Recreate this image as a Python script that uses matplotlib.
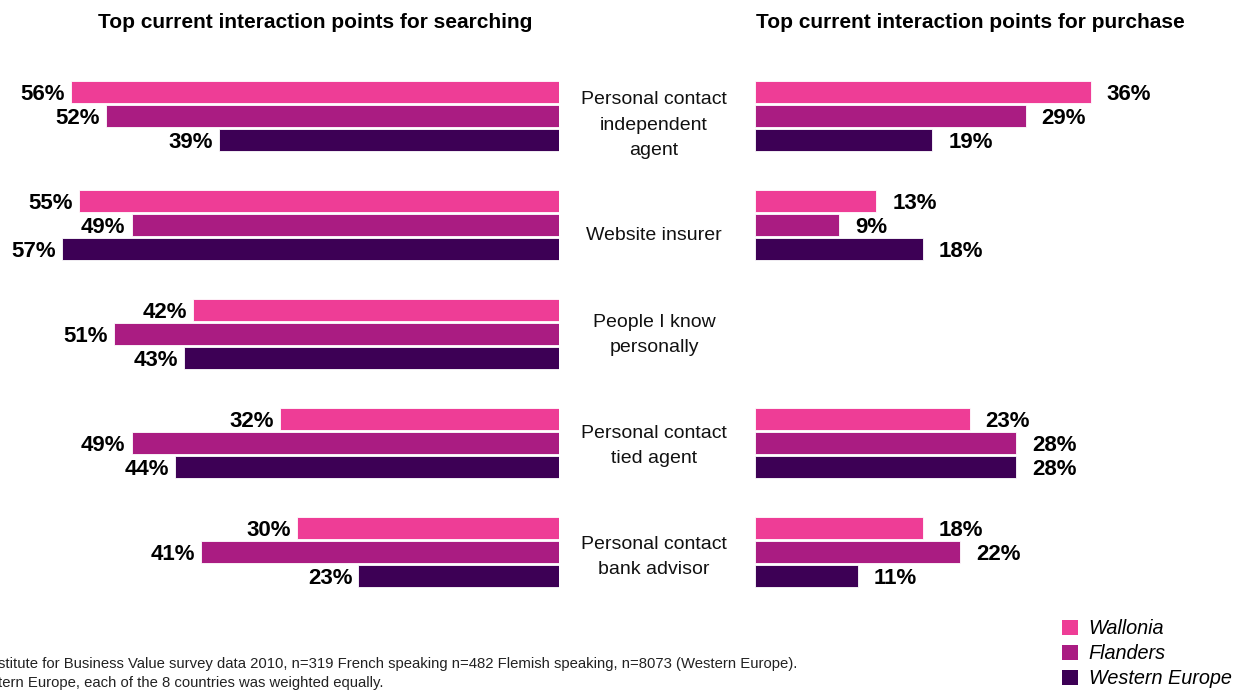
import matplotlib.pyplot as plt
from matplotlib.patches import Patch
import numpy as np

plt.rcParams['font.family'] = ['Liberation Sans', 'DejaVu Sans']

# data
categories = ['Personal contact\nindependent\nagent', 'Website insurer',
              'People I know\npersonally', 'Personal contact\ntied agent',
              'Personal contact\nbank advisor']
series = ['Wallonia', 'Flanders', 'Western Europe']
search_wallonia = [56, 55, 42, 32, 30]
search_flanders = [52, 49, 51, 49, 41]
search_west = [39, 57, 43, 44, 23]
purchase_wallonia = [36, 13, None, 23, 18]
purchase_flanders = [29, 9, None, 28, 22]
purchase_west = [19, 18, None, 28, 11]

colors = ['#EE3D96', '#AA1C82', '#3D0055']

W, H = 1238, 690
fig = plt.figure(figsize=(W / 100, H / 100), dpi=100)

# layout (pixels)
top, bottom = 70, 600
group_pitch = 109 / 24.0   # in bar-pitch units
bar_h = 22 / 24.0

def fig_rect(x0, x1):
    return [x0 / W, 1 - bottom / H, (x1 - x0) / W, (bottom - top) / H]

left_scale = 8.72
ax_l = fig.add_axes(fig_rect(559 - 60 * left_scale, 559))
ax_l.set_xlim(60, 0)
right_scale = 9.33
ax_r = fig.add_axes(fig_rect(755, 755 + 50 * right_scale))
ax_r.set_xlim(0, 50)

ymax = (bottom - top) / 24.0
for ax in (ax_l, ax_r):
    ax.set_ylim(ymax, 0)
    ax.axis('off')

search = [search_wallonia, search_flanders, search_west]
purchase = [purchase_wallonia, purchase_flanders, purchase_west]

for g in range(len(categories)):
    for j in range(3):
        y = 22 / 24.0 + g * group_pitch + j
        v = search[j][g]
        ax_l.barh(y, v, height=bar_h, color=colors[j], edgecolor='white', linewidth=0.6)
        ax_l.text(v + 0.7, y + 0.12, f'{v}%', ha='right', va='center',
                  fontsize=16, fontweight='bold', color='black')
        p = purchase[j][g]
        if p is not None:
            ax_r.barh(y, p, height=bar_h, color=colors[j], edgecolor='white', linewidth=0.6)
            ax_r.text(p + 1.7, y + 0.12, f'{p}%', ha='left', va='center',
                      fontsize=16, fontweight='bold', color='black')

# category labels in the middle
cat_offset = [9, 11, 1, 3, 5]
for g, cat in enumerate(categories):
    ypix = 92 + g * 109 + 24 + cat_offset[g]
    fig.text(654 / W, 1 - ypix / H, cat, ha='center', va='center',
             fontsize=14, linespacing=1.62, color='#111111')

fig.text(315 / W, 1 - 22 / H, 'Top current interaction points for searching',
         ha='center', va='center', fontsize=15, fontweight='bold')
fig.text(970 / W, 1 - 22 / H, 'Top current interaction points for purchase',
         ha='center', va='center', fontsize=15, fontweight='bold')

# footnote (clipped at left edge)
fig.text(-2 / W, 1 - 664 / H,
         'stitute for Business Value survey data 2010, n=319 French speaking n=482 Flemish speaking, n=8073 (Western Europe).',
         ha='left', va='center', fontsize=10.7, color='#222222')
fig.text(-2 / W, 1 - 683 / H,
         'tern Europe, each of the 8 countries was weighted equally.',
         ha='left', va='center', fontsize=10.7, color='#222222')

handles = [Patch(facecolor=c, edgecolor='none') for c in colors]
fig.legend(handles, series, loc='lower left', bbox_to_anchor=(1050 / W, -10 / H),
           frameon=False, prop={'style': 'italic', 'size': 14.3},
           handlelength=0.8, handleheight=0.8, handletextpad=0.55,
           labelspacing=0.3, borderaxespad=0.2)

fig.savefig('out.png', dpi=100)
